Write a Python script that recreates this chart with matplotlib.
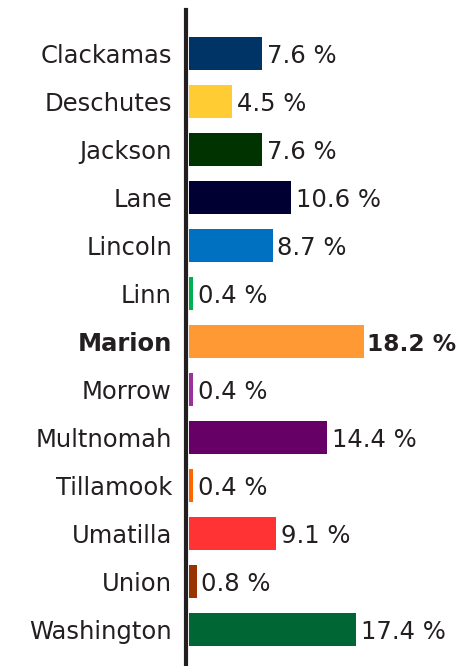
import matplotlib.pyplot as plt

# data
counties = ["Clackamas", "Deschutes", "Jackson", "Lane", "Lincoln", "Linn", "Marion",
            "Morrow", "Multnomah", "Tillamook", "Umatilla", "Union", "Washington"]
shares = [7.6, 4.5, 7.6, 10.6, 8.7, 0.4, 18.2, 0.4, 14.4, 0.4, 9.1, 0.8, 17.4]
colors = ["#003366", "#ffcc33", "#003300", "#000033", "#0070c0", "#00b050", "#ff9933",
          "#993399", "#660066", "#ff6600", "#ff3333", "#993300", "#006633"]
highlight = "Marion"

txt = "#231f20"
plt.rcParams['font.family'] = ['DejaVu Sans']

fig = plt.figure(figsize=(4.6, 6.66), dpi=100)
ax = fig.add_axes([186.5 / 460, 0, (460 - 186.5) / 460, 656 / 666])

ypos = list(range(len(counties)))
ax.barh(ypos, shares, height=0.69, color=colors)

for y, name, v in zip(ypos, counties, shares):
    if name == highlight:
        ax.text(v + 0.35, y, f"{v} %", va='center_baseline', ha='left', fontsize=16.8,
                color=txt, fontweight='bold')
    else:
        ax.text(v + 0.5, y, f"{v} %", va='center_baseline', ha='left', fontsize=17.5,
                color=txt)

ax.set_yticks(ypos)
ax.set_yticklabels(counties, fontsize=17.5, color=txt)
for lab in ax.get_yticklabels():
    if lab.get_text() == highlight:
        lab.set_fontweight('bold')
ax.tick_params(axis='y', length=0, pad=10.5)
ax.set_xticks([])

# one unit = 9.6 px, zero sits just right of the thick axis line
ax.set_xlim(-2.5 / 9.6, (460 - 189) / 9.6)
ax.set_ylim(12 + 0.76, -0.906)

for s in ['top', 'right', 'bottom']:
    ax.spines[s].set_visible(False)
ax.spines['left'].set_linewidth(3)
ax.spines['left'].set_color(txt)

fig.savefig("out.png", dpi=100)
